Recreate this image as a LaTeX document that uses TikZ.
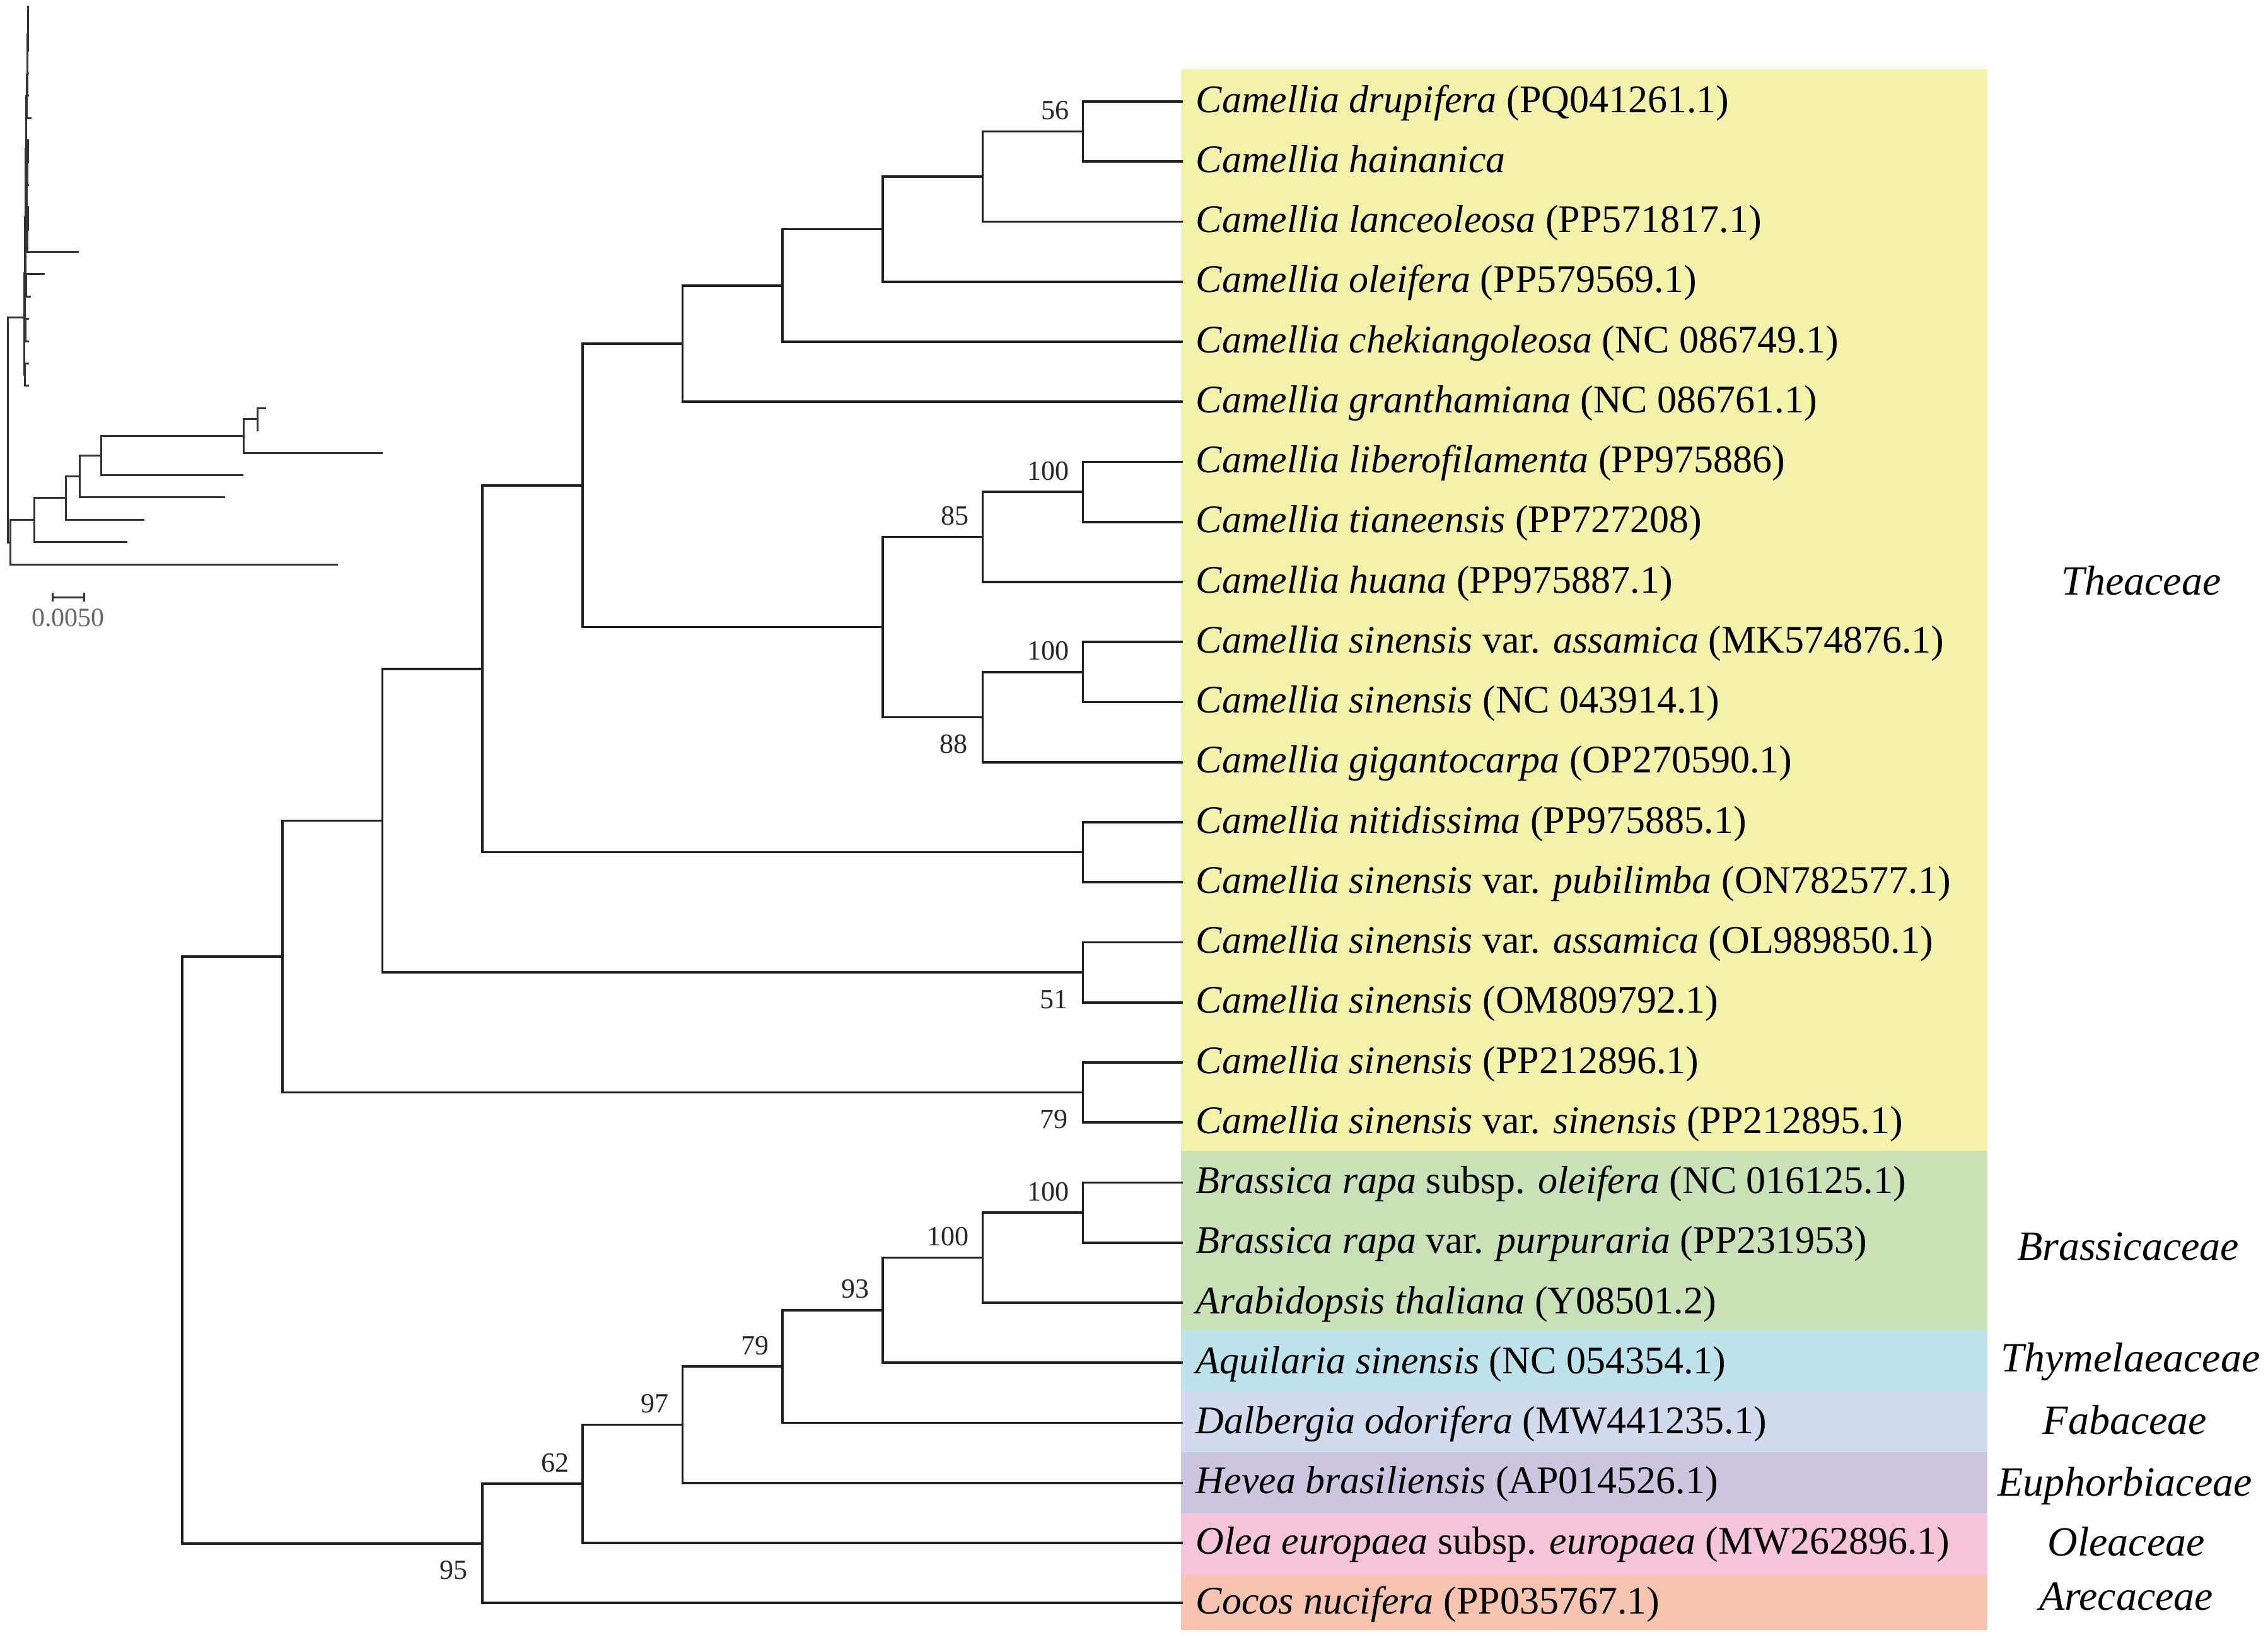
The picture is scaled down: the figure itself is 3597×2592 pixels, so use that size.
\documentclass[tikz,border=0pt]{standalone}
\usepackage{fontspec}
\setmainfont{Liberation Serif}
\usetikzlibrary{calc}
\definecolor{yel}{RGB}{242,242,170}
\definecolor{grn}{RGB}{200,225,182}
\definecolor{cyn}{RGB}{190,226,236}
\definecolor{peri}{RGB}{210,218,238}
\definecolor{purp}{RGB}{205,196,224}
\definecolor{pnk}{RGB}{245,196,218}
\definecolor{salm}{RGB}{245,195,176}
\tikzset{
  br/.style={line width=0.9pt, draw=black!88},
  ibr/.style={line width=0.75pt, draw=black!80},
  leaf/.style={anchor=base west, inner sep=0pt, font=\fontsize{15.5}{18}\selectfont},
  fam/.style={anchor=base, inner sep=0pt, font=\fontsize{16.5}{20}\selectfont\itshape},
  bs/.style={anchor=base east, inner sep=0pt, font=\fontsize{11}{13}\selectfont, text=black!85},
  sbl/.style={anchor=base, inner sep=0pt, font=\fontsize{10.5}{12}\selectfont, text=black!60},
}
\begin{document}
\begin{tikzpicture}[x=0.25pt,y=-0.25pt]
\useasboundingbox (0,0) rectangle (3597,2592);
\fill[white] (0,0) rectangle (3597,2592);
% colour bands
\fill[yel]  (1873,110)  rectangle (3152,1825);
\fill[grn]  (1873,1825) rectangle (3152,2109);
\fill[cyn]  (1873,2109) rectangle (3152,2206);
\fill[peri] (1873,2206) rectangle (3152,2303);
\fill[purp] (1873,2303) rectangle (3152,2400);
\fill[pnk]  (1873,2400) rectangle (3152,2497);
\fill[salm] (1873,2497) rectangle (3152,2585);

% leaf tips
\foreach \i in {0,...,25}{
  \coordinate (t\i) at (1876,{161+95.25*\i});
}
% leaf labels
\node[leaf] (n0)  at ($(t0)+(20,17)$)  {\textit{Camellia drupifera} (PQ041261.1)};
\node[leaf] (n1)  at ($(t1)+(20,17)$)  {\textit{Camellia hainanica}};
\node[leaf] (n2)  at ($(t2)+(20,17)$)  {\textit{Camellia lanceoleosa} (PP571817.1)};
\node[leaf] (n3)  at ($(t3)+(20,17)$)  {\textit{Camellia oleifera} (PP579569.1)};
\node[leaf] (n4)  at ($(t4)+(20,17)$)  {\textit{Camellia chekiangoleosa} (NC 086749.1)};
\node[leaf] (n5)  at ($(t5)+(20,17)$)  {\textit{Camellia granthamiana} (NC 086761.1)};
\node[leaf] (n6)  at ($(t6)+(20,17)$)  {\textit{Camellia liberofilamenta} (PP975886)};
\node[leaf] (n7)  at ($(t7)+(20,17)$)  {\textit{Camellia tianeensis} (PP727208)};
\node[leaf] (n8)  at ($(t8)+(20,17)$)  {\textit{Camellia huana} (PP975887.1)};
\node[leaf] (n9)  at ($(t9)+(20,17)$)  {\textit{Camellia sinensis} var. \textit{assamica} (MK574876.1)};
\node[leaf] (n10) at ($(t10)+(20,17)$) {\textit{Camellia sinensis} (NC 043914.1)};
\node[leaf] (n11) at ($(t11)+(20,17)$) {\textit{Camellia gigantocarpa} (OP270590.1)};
\node[leaf] (n12) at ($(t12)+(20,17)$) {\textit{Camellia nitidissima} (PP975885.1)};
\node[leaf] (n13) at ($(t13)+(20,17)$) {\textit{Camellia sinensis} var. \textit{pubilimba} (ON782577.1)};
\node[leaf] (n14) at ($(t14)+(20,17)$) {\textit{Camellia sinensis} var. \textit{assamica} (OL989850.1)};
\node[leaf] (n15) at ($(t15)+(20,17)$) {\textit{Camellia sinensis} (OM809792.1)};
\node[leaf] (n16) at ($(t16)+(20,17)$) {\textit{Camellia sinensis} (PP212896.1)};
\node[leaf] (n17) at ($(t17)+(20,17)$) {\textit{Camellia sinensis} var. \textit{sinensis} (PP212895.1)};
\node[leaf] (n18) at ($(t18)+(20,17)$) {\textit{Brassica rapa} subsp. \textit{oleifera} (NC 016125.1)};
\node[leaf] (n19) at ($(t19)+(20,17)$) {\textit{Brassica rapa} var. \textit{purpuraria} (PP231953)};
\node[leaf] (n20) at ($(t20)+(20,17)$) {\textit{Arabidopsis thaliana} (Y08501.2)};
\node[leaf] (n21) at ($(t21)+(20,17)$) {\textit{Aquilaria sinensis} (NC 054354.1)};
\node[leaf] (n22) at ($(t22)+(20,17)$) {\textit{Dalbergia odorifera} (MW441235.1)};
\node[leaf] (n23) at ($(t23)+(20,17)$) {\textit{Hevea brasiliensis} (AP014526.1)};
\node[leaf] (n24) at ($(t24)+(20,17)$) {\textit{Olea europaea} subsp. \textit{europaea} (MW262896.1)};
\node[leaf] (n25) at ($(t25)+(20,17)$) {\textit{Cocos nucifera} (PP035767.1)};

% family labels
\node[fam] (fThe) at (3396,943)  {Theaceae};
\node[fam] (fBra) at (3375,1998) {Brassicaceae};
\node[fam] (fThy) at (3379,2175) {Thymelaeaceae};
\node[fam] (fFab) at (3370,2274) {Fabaceae};
\node[fam] (fEup) at (3370,2372) {Euphorbiaceae};
\node[fam] (fOle) at (3372,2467) {Oleaceae};
\node[fam] (fAre) at (3372,2553) {Arecaceae};

% internal nodes (main tree)
\coordinate (A)  at (1717.3,208.6);
\coordinate (B)  at (1558.6,280.1);
\coordinate (C)  at (1399.9,363.4);
\coordinate (D)  at (1241.2,452.7);
\coordinate (E)  at (1082.5,545.0);
\coordinate (F)  at (1717.3,780.1);
\coordinate (G)  at (1558.6,851.6);
\coordinate (H)  at (1717.3,1065.9);
\coordinate (I)  at (1558.6,1137.3);
\coordinate (J)  at (1399.9,994.5);
\coordinate (K)  at (923.8,769.7);
\coordinate (L)  at (1717.3,1351.6);
\coordinate (M)  at (765.1,1060.7);
\coordinate (N)  at (1717.3,1542.1);
\coordinate (O)  at (606.4,1301.4);
\coordinate (P)  at (1717.3,1732.6);
\coordinate (Q)  at (447.7,1517.0);
\coordinate (R1) at (1717.3,1923.1);
\coordinate (R2) at (1558.6,1994.6);
\coordinate (R3) at (1399.9,2077.9);
\coordinate (R4) at (1241.2,2167.2);
\coordinate (R5) at (1082.5,2259.5);
\coordinate (R6) at (923.8,2353.2);
\coordinate (R7) at (765.1,2447.7);
\coordinate (Rt) at (289,1982.4);

% branches
\foreach \p/\c in {A/t0,A/t1,B/A,B/t2,C/B,C/t3,D/C,D/t4,E/D,E/t5,
  F/t6,F/t7,G/F,G/t8,H/t9,H/t10,I/H,I/t11,J/G,J/I,K/E,K/J,
  L/t12,L/t13,M/K,M/L,N/t14,N/t15,O/M,O/N,P/t16,P/t17,Q/O,Q/P,
  R1/t18,R1/t19,R2/R1,R2/t20,R3/R2,R3/t21,R4/R3,R4/t22,R5/R4,R5/t23,
  R6/R5,R6/t24,R7/R6,R7/t25,Rt/Q,Rt/R7}{
  \draw[br] (\p) |- (\c);
}

% bootstrap values
\node[bs] (bA)  at ([shift={(-21,-19)}]A)  {56};
\node[bs] (bF)  at ([shift={(-21,-19)}]F)  {100};
\node[bs] (bG)  at ([shift={(-21,-19)}]G)  {85};
\node[bs] (bH)  at ([shift={(-21,-19)}]H)  {100};
\node[bs] (bI)  at ([shift={(-23,57)}]I)   {88};
\node[bs] (bN)  at ([shift={(-23,57)}]N)   {51};
\node[bs] (bP)  at ([shift={(-23,57)}]P)   {79};
\node[bs] (bR1) at ([shift={(-21,-19)}]R1) {100};
\node[bs] (bR2) at ([shift={(-21,-19)}]R2) {100};
\node[bs] (bR3) at ([shift={(-21,-19)}]R3) {93};
\node[bs] (bR4) at ([shift={(-21,-19)}]R4) {79};
\node[bs] (bR5) at ([shift={(-21,-19)}]R5) {97};
\node[bs] (bR6) at ([shift={(-21,-19)}]R6) {62};
\node[bs] (bR7) at ([shift={(-23,57)}]R7)  {95};

% ---------- inset tree with branch lengths ----------
\foreach \i/\xe in {0/46,1/46,2/46,3/46,4/46,5/50,6/46,7/46,8/46,9/46,10/46,
  11/125,12/71,13/49,14/46,15/46,16/46,17/46,18/422,19/410,20/607,21/386,
  22/357,23/229,24/202,25/536}{
  \coordinate (u\i) at (\xe,{10+35.4*\i});
}
\coordinate (iA)  at (44.5,27.7);
\coordinate (iB)  at (44,54.3);
\coordinate (iC)  at (43.5,85.2);
\coordinate (iD)  at (43,118.4);
\coordinate (iE)  at (42,152.7);
\coordinate (iF)  at (44,240.1);
\coordinate (iG)  at (43,266.7);
\coordinate (iH)  at (44,346.3);
\coordinate (iI)  at (43,372.9);
\coordinate (iJ)  at (42,319.8);
\coordinate (iK)  at (41,236.2);
\coordinate (iL)  at (41,452.5);
\coordinate (iM)  at (40,344.4);
\coordinate (iN)  at (40,523.3);
\coordinate (iO)  at (39,433.7);
\coordinate (iP)  at (39.5,594.1);
\coordinate (iQ)  at (38,503);
\coordinate (iR1) at (408,664.9);
\coordinate (iR2) at (386,691.5);
\coordinate (iR3) at (160,722.4);
\coordinate (iR4) at (126,755.5);
\coordinate (iR5) at (104,789.9);
\coordinate (iR6) at (54,824.9);
\coordinate (iR7) at (16,860);
\coordinate (iRt) at (12,681.5);
\foreach \p/\c in {iA/u0,iA/u1,iB/iA,iB/u2,iC/iB,iC/u3,iD/iC,iD/u4,iE/iD,iE/u5,
  iF/u6,iF/u7,iG/iF,iG/u8,iH/u9,iH/u10,iI/iH,iI/u11,iJ/iG,iJ/iI,iK/iE,iK/iJ,
  iL/u12,iL/u13,iM/iK,iM/iL,iN/u14,iN/u15,iO/iM,iO/iN,iP/u16,iP/u17,iQ/iO,iQ/iP,
  iR1/u18,iR1/u19,iR2/iR1,iR2/u20,iR3/iR2,iR3/u21,iR4/iR3,iR4/u22,iR5/iR4,iR5/u23,
  iR6/iR5,iR6/u24,iR7/iR6,iR7/u25,iRt/iQ,iRt/iR7}{
  \draw[ibr] (\p) |- (\c);
}
% scale bar
\coordinate (sbL) at (83,947);
\coordinate (sbR) at (133,947);
\coordinate (sbLt) at (83,940);
\coordinate (sbLb) at (83,954);
\coordinate (sbRt) at (133,940);
\coordinate (sbRb) at (133,954);
\draw[ibr] (sbL) -- (sbR);
\draw[ibr] (sbLt) -- (sbLb);
\draw[ibr] (sbRt) -- (sbRb);
\node[sbl] (sbT) at (108,993) {0.0050};
\end{tikzpicture}
\end{document}
